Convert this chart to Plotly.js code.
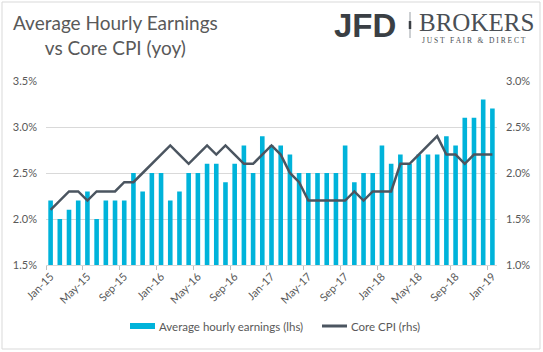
<!DOCTYPE html>
<html>
<head>
<meta charset="utf-8">
<script src="https://cdn.plot.ly/plotly-3.0.1.min.js"></script>
<style>html,body{margin:0;padding:0;background:#fff;}#chart{width:543px;height:352px;}</style>
</head>
<body>
<div id="chart"></div>
<script>
var months = ["Jan-15","Feb-15","Mar-15","Apr-15","May-15","Jun-15","Jul-15","Aug-15","Sep-15","Oct-15","Nov-15","Dec-15",
"Jan-16","Feb-16","Mar-16","Apr-16","May-16","Jun-16","Jul-16","Aug-16","Sep-16","Oct-16","Nov-16","Dec-16",
"Jan-17","Feb-17","Mar-17","Apr-17","May-17","Jun-17","Jul-17","Aug-17","Sep-17","Oct-17","Nov-17","Dec-17",
"Jan-18","Feb-18","Mar-18","Apr-18","May-18","Jun-18","Jul-18","Aug-18","Sep-18","Oct-18","Nov-18","Dec-18",
"Jan-19"];
var earnings = [2.2,2.0,2.1,2.2,2.3,2.0,2.2,2.2,2.2,2.5,2.3,2.5,
2.5,2.2,2.3,2.5,2.5,2.6,2.6,2.4,2.6,2.8,2.5,2.9,
2.8,2.8,2.7,2.5,2.5,2.5,2.5,2.5,2.8,2.4,2.5,2.5,
2.8,2.6,2.7,2.6,2.7,2.7,2.7,2.9,2.8,3.1,3.1,3.3,
3.2];
var coreCPI = [1.6,1.7,1.8,1.8,1.7,1.8,1.8,1.8,1.9,1.9,2.0,2.1,
2.2,2.3,2.2,2.1,2.2,2.3,2.2,2.3,2.2,2.1,2.1,2.2,
2.3,2.2,2.0,1.9,1.7,1.7,1.7,1.7,1.7,1.8,1.7,1.8,
1.8,1.8,2.1,2.1,2.2,2.3,2.4,2.2,2.2,2.1,2.2,2.2,
2.2];
var leftTicks = [1.5,2.0,2.5,3.0,3.5];
var rightTicks = [1.0,1.5,2.0,2.5,3.0];
var seriesNames = ["Average hourly earnings (lhs)", "Core CPI (rhs)"];
var fmt = function(v){return v.toFixed(1)+"%";};

var W=543,H=352,L=46,R=497,T=81,B=265;
function px(x){return (x-L)/(R-L);}
function py(y){return (B-y)/(B-T);}

var barColor = "#00B3DA", lineColor = "#4B5560";
var traces = [
  {type:"bar", x:months, y:earnings, name:seriesNames[0], marker:{color:barColor}, yaxis:"y"},
  {type:"scatter", mode:"lines", x:months, y:coreCPI, name:seriesNames[1], line:{color:lineColor, width:2.5}, yaxis:"y2"}
];
var font = {family:"Lato, 'Open Sans', sans-serif", color:"#595959", size:11};
var layout = {
  width:W, height:H,
  margin:{l:L, r:W-R, t:T, b:H-B},
  paper_bgcolor:"#fff", plot_bgcolor:"#fff",
  font:font,
  bargap:0.5,
  showlegend:false,
  xaxis:{type:"category", tickmode:"linear", tick0:0, dtick:4, tickson:"boundaries", ticks:"outside", ticklen:4, tickcolor:"#bfbfbf",
         tickangle:-45, showgrid:false, showline:true, linecolor:"#d9d9d9", linewidth:1, tickfont:{size:11,color:"#595959"}, range:[-0.5,48.5]},
  yaxis:{range:[1.5,3.5], tickvals:leftTicks, ticktext:leftTicks.map(fmt), showgrid:true, gridcolor:"#d9d9d9", gridwidth:1, zeroline:false, showline:false, ticks:"", ticklabelstandoff:8, tickfont:{size:11,color:"#595959"}},
  yaxis2:{range:[1.0,3.0], overlaying:"y", side:"right", tickvals:rightTicks, ticktext:rightTicks.map(fmt), showgrid:false, zeroline:false, showline:false, ticks:"", ticklabelstandoff:8, tickfont:{size:11,color:"#595959"}},
  shapes:[
    {type:"rect", xref:"paper", yref:"paper", x0:px(2), x1:px(540), y0:py(349), y1:py(2), line:{color:"#d9d9d9", width:1}, fillcolor:"rgba(0,0,0,0)"},
    {type:"line", xref:"paper", yref:"paper", x0:px(410), x1:px(410), y0:py(12), y1:py(38), line:{color:"#9aa0a6", width:1}},
    {type:"line", xref:"paper", yref:"paper", x0:px(410), x1:px(410), y0:py(21), y1:py(29), line:{color:"#3a3f44", width:2.5}},
    {type:"rect", xref:"paper", yref:"paper", x0:px(130), x1:px(155), y0:py(329), y1:py(323), line:{width:0}, fillcolor:barColor},
    {type:"line", xref:"paper", yref:"paper", x0:px(322), x1:px(347), y0:py(326), y1:py(326), line:{color:lineColor, width:3}}
  ],
  annotations:[
    {text:"Average Hourly Earnings<br>vs Core CPI (yoy)", xref:"paper", yref:"paper", x:px(115), y:py(9), xanchor:"center", yanchor:"top", align:"center", showarrow:false, font:{family:"Lato, sans-serif", size:19, color:"#595959"}},
    {text:"<b>JFD</b>", xref:"paper", yref:"paper", x:px(398), y:py(25), xanchor:"right", yanchor:"middle", showarrow:false, font:{family:"'Liberation Sans', Arial, sans-serif", size:33, color:"#3a3f44"}},
    {text:"BROKERS", xref:"paper", yref:"paper", x:px(417), y:py(23), xanchor:"left", yanchor:"middle", showarrow:false, font:{family:"'Liberation Serif', serif", size:25, color:"#4a4f55"}},
    {text:"J U S T   F A I R   &amp;   D I R E C T", xref:"paper", yref:"paper", x:px(474), y:py(40), xanchor:"center", yanchor:"middle", showarrow:false, font:{family:"'Liberation Serif', serif", size:7.5, color:"#4a4f55"}},
    {text:seriesNames[0], xref:"paper", yref:"paper", x:px(157), y:py(326), xanchor:"left", yanchor:"middle", showarrow:false, font:{size:11.5, color:"#595959"}},
    {text:seriesNames[1], xref:"paper", yref:"paper", x:px(349), y:py(326), xanchor:"left", yanchor:"middle", showarrow:false, font:{size:11.5, color:"#595959"}}
  ]
};
Plotly.newPlot("chart", traces, layout, {displayModeBar:false, staticPlot:true});
</script>
</body>
</html>
